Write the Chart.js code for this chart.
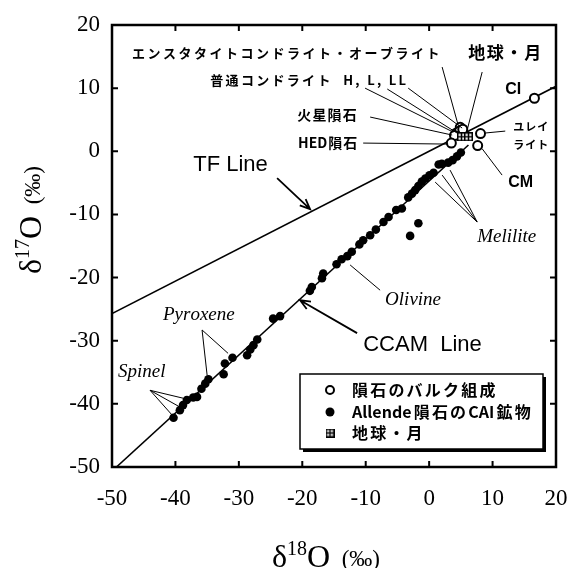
<!DOCTYPE html>
<html>
<head>
<meta charset="utf-8">
<script src="https://cdn.jsdelivr.net/npm/chart.js@4.4.1/dist/chart.umd.min.js"></script>
<style>
  html, body { margin: 0; padding: 0; background: #fff; }
  #wrap { width: 569px; height: 568px; }
</style>
</head>
<body>
<div id="wrap"><canvas id="chart" width="569" height="568"></canvas></div>
<script>
// oxygen three-isotope plot: d18O vs d17O (permil)
var ticks = [-50, -40, -30, -20, -10, 0, 10, 20];

// terrestrial fractionation line and CCAM line (end points)
var tfX = [-50, 20];
var tfY = [-25.7, 10.3];
var ccamX = [-49.3, 6.2];
var ccamY = [-50, 1.0];

// bulk meteorites (open circles)
var bulkNames = ["CI", "Enstatite/Aubrite", "H", "L", "LL", "Mars", "HED", "Ureilite", "CM"];
var bulkX = [16.6, 4.9, 4.3, 4.8, 5.3, 4.0, 3.5, 8.1, 7.65];
var bulkY = [8.4, 3.8, 2.9, 3.2, 3.5, 2.5, 1.3, 2.8, 0.9];

// Earth / Moon
var earthX = [5.1, 6.2];
var earthY = [2.3, 2.3];

// Allende CAI minerals (filled circles)
var caiX = [5.0, 4.4, 3.7, 3.0, 2.0, 1.5, 0.7, 0.05, -0.6, -1.15, -1.7, -2.2, -2.7, -3.3, -4.3,
  -5.2, -6.4, -7.2, -8.4, -9.3, -10.4, -11.0, -12.2, -12.9, -13.8, -14.6, -16.7, -16.9, -18.5, -18.8,
  -23.5, -24.6, -1.7, -3.0,
  -27.1, -27.7, -28.2, -28.7, -31.0, -32.2, -32.4, -34.8, -35.3, -35.9, -36.6, -37.2, -38.2, -38.8, -39.3, -40.3];
var caiY = [-0.2, -0.8, -1.4, -1.8, -2.0, -2.1, -3.4, -3.8, -4.3, -4.8, -5.5, -6.15, -6.7, -7.3, -9.05,
  -9.3, -10.4, -11.2, -12.4, -13.3, -14.1, -14.75, -15.9, -16.6, -17.1, -17.9, -19.35, -20.1, -21.5, -22.1,
  -26.1, -26.5, -11.4, -13.4,
  -29.8, -30.7, -31.4, -32.3, -32.7, -33.6, -35.3, -36.1, -36.8, -37.6, -38.9, -39.0, -39.4, -40.2, -41.0, -42.2];

function pts(xs, ys) {
  return xs.map(function (x, i) { return { x: x, y: ys[i] }; });
}

function boxCross(size) {
  var c = document.createElement('canvas');
  c.width = size; c.height = size;
  var g = c.getContext('2d');
  g.fillStyle = '#fff';
  g.fillRect(0, 0, size, size);
  g.strokeStyle = '#000';
  g.lineWidth = 1.5;
  g.strokeRect(0.75, 0.75, size - 1.5, size - 1.5);
  g.beginPath();
  g.moveTo(size / 2, 0); g.lineTo(size / 2, size);
  g.moveTo(0, size / 2); g.lineTo(size, size / 2);
  g.stroke();
  return c;
}
var earthMark = boxCross(9);

var jp = '"Noto Sans CJK JP"';
var labels = [
  { t: 'エンスタタイトコンドライト・オーブライト', x: -46.85, y: 15.56, f: 'bold 13px ' + jp, sp: 2.5 },
  { t: '地球・月', x: 6.15, y: 15.56, f: 'bold 17px ' + jp, sp: 1.7 },
  { t: '普通コンドライト  H, L, LL', x: -34.5, y: 11.28, f: 'bold 13px ' + jp, sp: 2.3, all: true },
  { t: '火星隕石', x: -20.8, y: 5.74, f: 'bold 14px ' + jp, sp: 1.2 },
  { t: 'HED隕石', x: -20.66, y: 1.3, f: 'bold 14px ' + jp, sp: 1 },
  { t: 'CI', x: 12.0, y: 9.7, f: 'bold 16px "Liberation Sans"', sp: 0 },
  { t: 'ユレイ', x: 13.25, y: 3.84, f: 'bold 11px ' + jp, sp: 1 },
  { t: 'ライト', x: 13.25, y: 0.98, f: 'bold 11px ' + jp, sp: 1 },
  { t: 'CM', x: 12.46, y: -4.88, f: 'bold 16px "Liberation Sans"', sp: 0 },
  { t: 'TF Line', x: -37.2, y: -2.19, f: '22px "Liberation Sans"', sp: 0 },
  { t: 'CCAM  Line', x: -10.4, y: -30.7, f: '22px "Liberation Sans"', sp: 0 },
  { t: 'Melilite', x: 7.57, y: -13.6, f: 'italic 19px "Liberation Serif"', sp: 0 },
  { t: 'Olivine', x: -6.94, y: -23.6, f: 'italic 19px "Liberation Serif"', sp: 0 },
  { t: 'Pyroxene', x: -41.96, y: -25.96, f: 'italic 19px "Liberation Serif"', sp: 0 },
  { t: 'Spinel', x: -49.05, y: -35.0, f: 'italic 19px "Liberation Serif"', sp: 0 }
];

var leaders = [
  [2.05, 13.34, 4.57, 4.15],
  [8.36, 12.55, 5.9, 3.0],
  [-10.1, 10.0, 3.79, 3.04],
  [-6.6, 9.86, 4.42, 2.88],
  [-3.3, 10.0, 5.2, 3.68],
  [-9.3, 5.42, 3.63, 2.57],
  [-10.4, 1.3, 3.0, 1.14],
  [8.9, 2.9, 12.0, 3.2],
  [8.36, 0.4, 11.5, -3.77],
  [7.57, -11.2, 0.95, -4.88],
  [7.57, -11.2, 2.05, -3.77],
  [7.57, -11.2, 3.3, -2.98],
  [-7.73, -22.0, -12.46, -18.0],
  [-35.8, -28.3, -35.0, -35.5],
  [-35.8, -28.3, -31.7, -32.0],
  [-44.0, -37.85, -40.5, -41.8],
  [-44.0, -37.85, -39.3, -40.5],
  [-44.0, -37.85, -38.8, -39.1]
];

var arrows = [
  [-23.97, -4.25, -18.77, -9.16],
  [-11.36, -28.8, -20.35, -23.58]
];

// letter spacing between CJK glyphs; latin runs stay tight unless all is set
function spacedText(ctx, s, x, y, font, sp, all) {
  ctx.font = font;
  var cjk = /[\u3000-\u30ff\u4e00-\u9fff\uff00-\uffef]/;
  for (var i = 0; i < s.length; i++) {
    var ch = s[i];
    ctx.fillText(ch, x, y);
    x += ctx.measureText(ch).width;
    if (all || cjk.test(ch) || (i + 1 < s.length && cjk.test(s[i + 1]))) x += sp;
  }
}

function isoTitle(ctx, mass, cx, cy, big) {
  var parts = [
    { s: 'δ', f: big + 'px "Liberation Serif"', dy: 0 },
    { s: mass, f: Math.round(big * 0.62) + 'px "Liberation Serif"', dy: -big * 0.38 },
    { s: 'O', f: big + 'px "Liberation Serif"', dy: 0 },
    { s: '  (‰)', f: Math.round(big * 0.72) + 'px "Liberation Serif"', dy: -1 }
  ];
  var w = 0;
  parts.forEach(function (p) { ctx.font = p.f; p.w = ctx.measureText(p.s).width; w += p.w; });
  var x = cx - w / 2;
  ctx.textAlign = 'left';
  ctx.textBaseline = 'alphabetic';
  parts.forEach(function (p) { ctx.font = p.f; ctx.fillText(p.s, x, cy + p.dy); x += p.w; });
}

var decor = {
  id: 'decor',
  afterDatasetsDraw: function (chart) {
    var ctx = chart.ctx, xs = chart.scales.x, ys = chart.scales.y, a = chart.chartArea;
    function px(v) { return xs.getPixelForValue(v); }
    function py(v) { return ys.getPixelForValue(v); }
    ctx.save();
    ctx.strokeStyle = '#000';
    ctx.fillStyle = '#000';

    // frame and inward ticks
    ctx.lineWidth = 2.5;
    ctx.strokeRect(a.left, a.top, a.right - a.left, a.bottom - a.top);
    ctx.lineWidth = 2;
    ctx.beginPath();
    ticks.forEach(function (t) {
      var x = px(t), y = py(t);
      ctx.moveTo(x, a.bottom); ctx.lineTo(x, a.bottom - 6);
      ctx.moveTo(x, a.top); ctx.lineTo(x, a.top + 6);
      ctx.moveTo(a.left, y); ctx.lineTo(a.left + 6, y);
      ctx.moveTo(a.right, y); ctx.lineTo(a.right - 6, y);
    });
    ctx.stroke();

    // leader lines
    ctx.lineWidth = 1;
    ctx.beginPath();
    leaders.forEach(function (l) {
      ctx.moveTo(px(l[0]), py(l[1]));
      ctx.lineTo(px(l[2]), py(l[3]));
    });
    ctx.stroke();

    // arrows
    ctx.lineWidth = 1.8;
    arrows.forEach(function (r) {
      var x1 = px(r[0]), y1 = py(r[1]), x2 = px(r[2]), y2 = py(r[3]);
      var ang = Math.atan2(y2 - y1, x2 - x1);
      ctx.beginPath();
      ctx.moveTo(x1, y1); ctx.lineTo(x2, y2);
      ctx.moveTo(x2 - 11 * Math.cos(ang - 0.4), y2 - 11 * Math.sin(ang - 0.4));
      ctx.lineTo(x2, y2);
      ctx.lineTo(x2 - 11 * Math.cos(ang + 0.4), y2 - 11 * Math.sin(ang + 0.4));
      ctx.stroke();
    });

    // labels
    ctx.textAlign = 'left';
    ctx.textBaseline = 'middle';
    labels.forEach(function (l) {
      spacedText(ctx, l.t, px(l.x), py(l.y), l.f, l.sp, l.all);
    });

    // legend box with shadow
    var lx = 300, ly = 374, lw = 243, lh = 75;
    ctx.fillStyle = '#fff';
    ctx.fillRect(lx, ly, lw, lh);
    ctx.fillStyle = '#000';
    ctx.fillRect(lx + lw, ly + 3, 3, lh);
    ctx.fillRect(lx + 3, ly + lh, lw, 3);
    ctx.lineWidth = 1.5;
    ctx.strokeRect(lx, ly, lw, lh);

    var rows = [
      { t: '隕石のバルク組成', y: 390 },
      { t: 'Allende隕石のCAI鉱物', y: 412 },
      { t: '地球・月', y: 433 }
    ];
    ctx.lineWidth = 2;
    ctx.beginPath(); ctx.arc(330, rows[0].y, 4, 0, Math.PI * 2); ctx.stroke();
    ctx.beginPath(); ctx.arc(330, rows[1].y, 4.5, 0, Math.PI * 2); ctx.fill();
    ctx.drawImage(earthMark, 325.5, rows[2].y - 4.5);
    rows.forEach(function (r) {
      spacedText(ctx, r.t, 352, r.y, 'bold 16px ' + jp, 2.2);
    });

    // axis titles
    isoTitle(ctx, '18', 326, 567, 32);
    ctx.translate(41, 220);
    ctx.rotate(-Math.PI / 2);
    isoTitle(ctx, '17', 0, 0, 32);
    ctx.restore();
  }
};

new Chart(document.getElementById('chart'), {
  type: 'scatter',
  data: {
    datasets: [
      {
        label: '地球・月',
        data: pts(earthX, earthY),
        pointStyle: earthMark,
        pointRadius: 4.5,
        order: 0
      },
      {
        label: '隕石のバルク組成',
        data: pts(bulkX, bulkY),
        pointStyle: 'circle',
        pointRadius: 4.5,
        backgroundColor: '#fff',
        borderColor: '#000',
        borderWidth: 2,
        order: 1
      },
      {
        label: 'Allende隕石のCAI鉱物',
        data: pts(caiX, caiY),
        pointStyle: 'circle',
        pointRadius: 4.3,
        backgroundColor: '#000',
        borderColor: '#000',
        borderWidth: 0,
        order: 2
      },
      {
        label: 'TF Line',
        data: pts(tfX, tfY),
        showLine: true,
        borderColor: '#000',
        borderWidth: 1.6,
        pointRadius: 0,
        order: 3
      },
      {
        label: 'CCAM Line',
        data: pts(ccamX, ccamY),
        showLine: true,
        borderColor: '#000',
        borderWidth: 1.6,
        pointRadius: 0,
        order: 4
      }
    ]
  },
  options: {
    responsive: false,
    animation: false,
    layout: { padding: { top: 25, right: 13, left: 0, bottom: 0 } },
    plugins: {
      legend: { display: false },
      tooltip: { enabled: false }
    },
    scales: {
      x: {
        type: 'linear',
        min: -50,
        max: 20,
        ticks: {
          stepSize: 10,
          color: '#000',
          padding: 18,
          font: { family: 'Liberation Serif', size: 23 }
        },
        grid: { display: false, drawTicks: false },
        border: { display: false },
        afterFit: function (s) { s.height = 101; s.paddingLeft = 0; s.paddingRight = 0; }
      },
      y: {
        type: 'linear',
        min: -50,
        max: 20,
        ticks: {
          stepSize: 10,
          color: '#000',
          padding: 12,
          font: { family: 'Liberation Serif', size: 23 }
        },
        grid: { display: false, drawTicks: false },
        border: { display: false },
        afterFit: function (s) { s.width = 112; s.paddingTop = 0; s.paddingBottom = 0; }
      }
    }
  },
  plugins: [decor]
});
</script>
</body>
</html>
